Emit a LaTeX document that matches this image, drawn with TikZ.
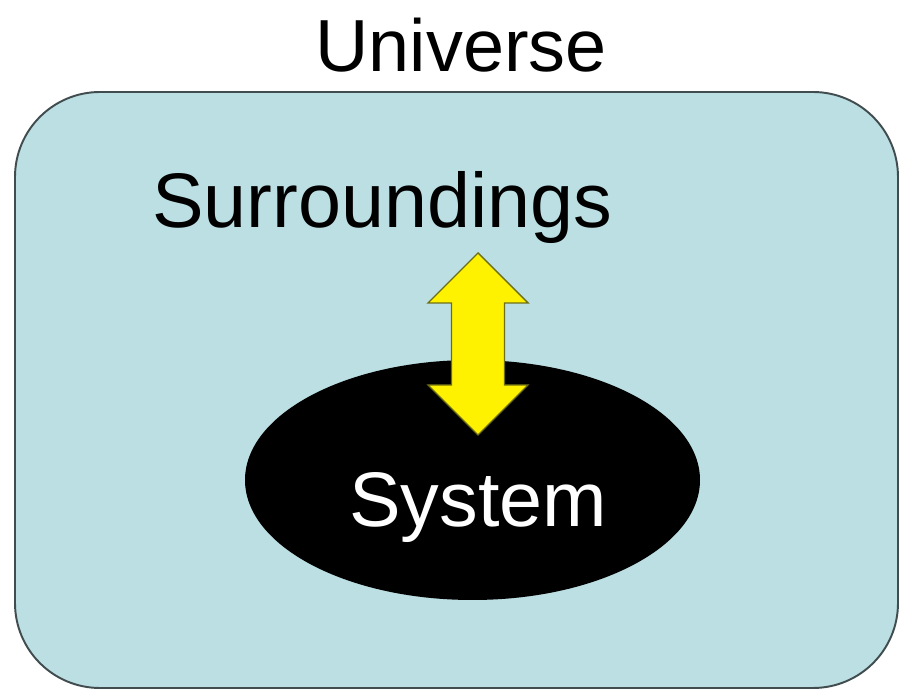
\documentclass[tikz,border=0pt]{standalone}
\usepackage{fontspec}
\setmainfont{Liberation Sans}
\usepackage{tikz}
\usetikzlibrary{positioning, shapes.geometric, calc}
\definecolor{skyfill}{RGB}{187,223,227}
\definecolor{boxline}{RGB}{64,76,78}
\definecolor{arrowline}{RGB}{110,110,20}

\begin{document}
\begin{tikzpicture}[
  big/.style={font=\fontsize{42}{50}\selectfont, inner sep=0pt, anchor=base},
  bigger/.style={big, font=\fontsize{44}{52}\selectfont},
  region/.style={draw=boxline, line width=1.1pt, fill=skyfill, rectangle,
                 rounded corners=1.7cm, minimum width=17.66cm,
                 minimum height=11.92cm},
  core/.style={ellipse, fill=black, minimum width=9.1cm,
               minimum height=4.8cm, inner sep=0pt},
  flow/.style={draw=arrowline, line width=0.8pt, fill=yellow, line join=miter}
]
\useasboundingbox (0,0) rectangle (18,13.82);

% Universe box
\node[region] (UNI) at (9.13, 6.02) {};
\node[big] (UNIlab) at (9.22, 12.38) {Universe};

% System
\node[core] (SYS) at (9.45, 4.22) {};
\node[bigger, text=white] (SYSlab) at (9.56, 3.28) {System};

% Exchange arrow
\coordinate (EXC) at (9.56, 6.94);
\draw[flow] ($(EXC)+(0,1.82)$) -- ++(1,-1) -- ++(-0.47,0) -- ++(0,-1.64)
  -- ++(0.47,0) -- ++(-1,-1) -- ++(-1,1) -- ++(0.47,0) -- ++(0,1.64)
  -- ++(-0.47,0) -- cycle;

% Surroundings
\node[bigger] (SURlab) at (7.64, 9.26) {Surroundings};

\end{tikzpicture}
\end{document}
